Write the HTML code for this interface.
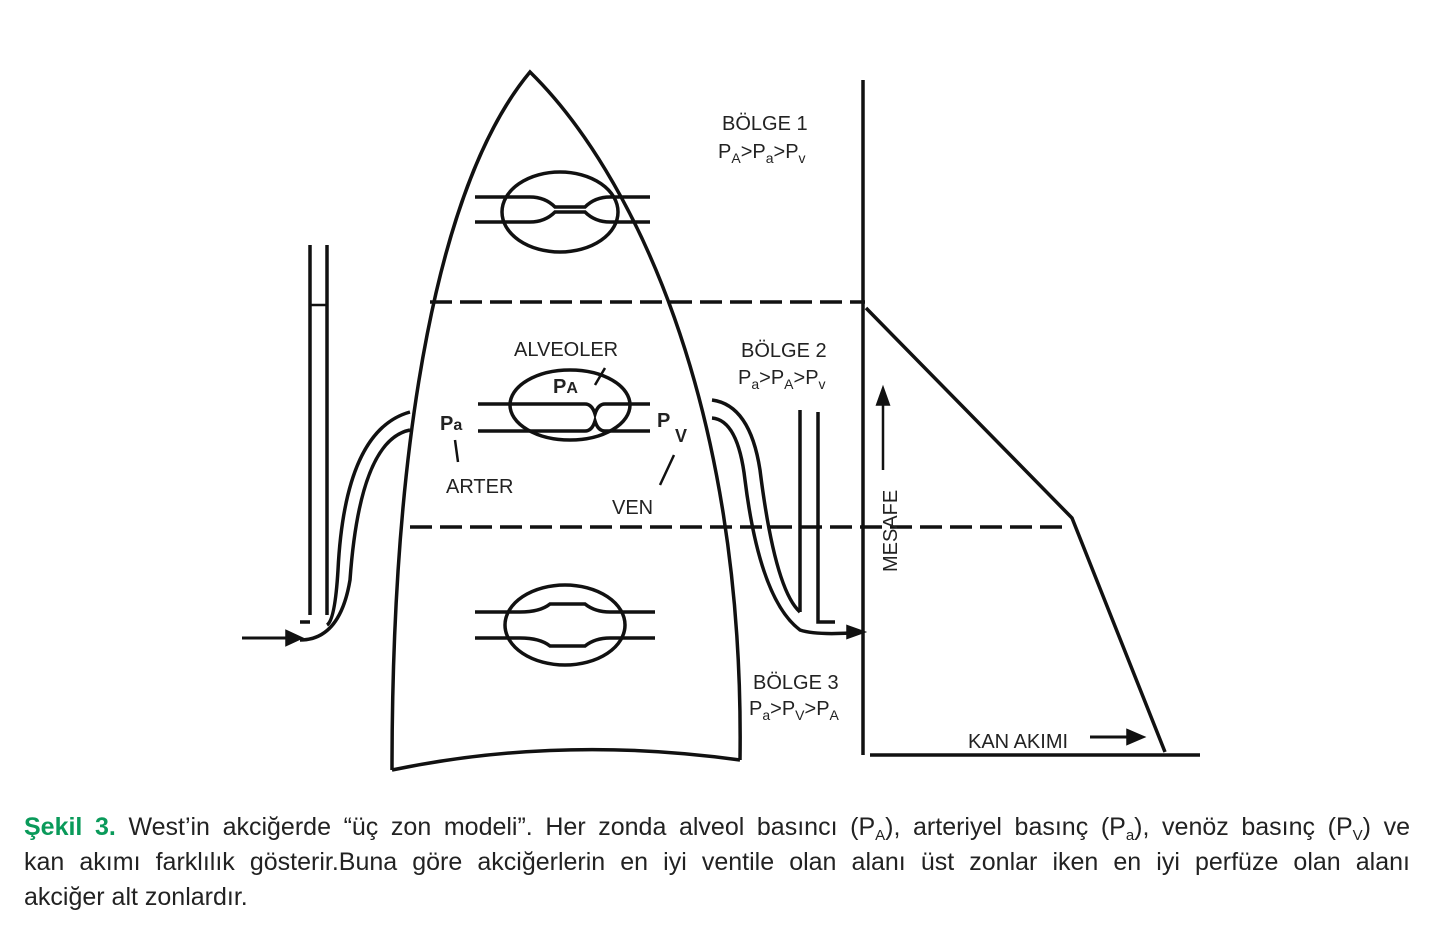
<!DOCTYPE html>
<html><head><meta charset="utf-8"><style>
body{margin:0;width:1443px;height:941px;background:#fff;overflow:hidden;position:relative;font-family:"Liberation Sans",sans-serif}
svg{position:absolute;left:0;top:0}
.cap{position:absolute;left:24px;width:1386px;top:810px;font-size:25px;line-height:35px;color:#222}
.cap div{text-align:justify;text-align-last:justify;white-space:nowrap}
.cap div.l{text-align-last:left}
.cap b{color:#0a9a5a}
sub{font-size:15px;vertical-align:-5px;line-height:0}
</style></head><body>
<svg width="1443" height="800" viewBox="0 0 1443 800" fill="none" stroke="#111" stroke-width="3.5" font-family="Liberation Sans" >
<!-- lung -->
<path d="M392 770 C392 430 440 180 530 72 C630 170 745 400 740 760"/>
<path d="M392 770 Q560 735 740 760"/>
<!-- dashed -->
<path d="M430 302 H865" stroke-dasharray="22 8"/>
<path d="M410 527 H1070" stroke-dasharray="22 8"/>
<!-- graph -->
<path d="M863 80 V755 M870 755 H1200"/>
<path d="M866 308 L1072 518 L1165 752"/>
<path d="M883 470 V392" stroke-width="2.5"/><path d="M878 404 L883 390 L888 404Z" fill="#111"/>
<path d="M1090 737 H1132" stroke-width="3"/><path d="M1128 731 L1142 737 L1128 743Z" fill="#111"/>
<!-- top alveolus -->
<ellipse cx="560" cy="212" rx="58" ry="40"/>
<path d="M475 197 H530 Q545 197 555 207 H585 Q595 197 610 197 H650" />
<path d="M475 222 H530 Q545 222 555 212 H585 Q595 222 610 222 H650"/>
<!-- middle alveolus -->
<ellipse cx="570" cy="405" rx="60" ry="35"/>
<path d="M478 404 H585 Q592 404 595 414 Q598 404 605 404 H650"/>
<path d="M478 431 H585 Q592 431 595 421 Q598 431 605 431 H650"/>
<path d="M595 385 L605 368" stroke-width="2.5"/>
<path d="M455 440 L458 462 M660 485 L674 455" stroke-width="2.5"/>
<!-- bottom alveolus -->
<ellipse cx="565" cy="625" rx="60" ry="40"/>
<path d="M475 612 H520 Q540 612 550 604 H585 Q595 612 610 612 H655"/>
<path d="M475 638 H520 Q540 638 550 646 H585 Q595 638 610 638 H655"/>
<!-- left tube -->
<path d="M310 245 V615 M327 245 V615"/>
<path d="M310 305 H327" stroke-width="2.5"/>
<path d="M300 622 H310 M327 625 Q335 620 338 570 Q345 430 410 412"/>
<path d="M300 640 Q340 640 350 580 Q360 440 410 430"/>
<path d="M242 638 H290" stroke-width="3"/><path d="M287 632 L300 638 L287 644Z" fill="#111"/>
<!-- right tube -->
<path d="M712 400 Q750 405 760 470 Q775 590 800 612"/>
<path d="M712 418 Q738 420 745 480 Q760 600 800 630 Q815 635 850 633"/>
<path d="M800 410 V612 M818 412 V622 H835"/>
<path d="M800 527 H818" stroke-width="2.5"/>
<path d="M848 627 L862 632 L848 637Z" fill="#111"/>
<g fill="#222" stroke="none" font-size="20">
<text x="722" y="130">BÖLGE 1</text>
<text x="718" y="158">P<tspan font-size="14" dy="5">A</tspan><tspan dy="-5">&gt;P</tspan><tspan font-size="14" dy="5">a</tspan><tspan dy="-5">&gt;P</tspan><tspan font-size="14" dy="5">v</tspan></text>
<text x="741" y="357">BÖLGE 2</text>
<text x="738" y="384">P<tspan font-size="14" dy="5">a</tspan><tspan dy="-5">&gt;P</tspan><tspan font-size="14" dy="5">A</tspan><tspan dy="-5">&gt;P</tspan><tspan font-size="14" dy="5">v</tspan></text>
<text x="753" y="689">BÖLGE 3</text>
<text x="749" y="715">P<tspan font-size="14" dy="5">a</tspan><tspan dy="-5">&gt;P</tspan><tspan font-size="14" dy="5">V</tspan><tspan dy="-5">&gt;P</tspan><tspan font-size="14" dy="5">A</tspan></text>
<text x="514" y="356">ALVEOLER</text>
<text x="553" y="393" font-weight="bold">P<tspan font-size="16">A</tspan></text>
<text x="440" y="430" font-weight="bold">P<tspan font-size="16">a</tspan></text>
<text x="657" y="427" font-weight="bold">P</text><text x="675" y="442" font-weight="bold" font-size="18">V</text>
<text x="446" y="493">ARTER</text>
<text x="612" y="514">VEN</text>
<text x="968" y="748">KAN AKIMI</text>
<text transform="translate(897,572) rotate(-90)">MESAFE</text>
</g>
</svg>
<div class="cap">
<div><b>Şekil 3.</b> West’in akciğerde “üç zon modeli”. Her zonda alveol basıncı (P<sub>A</sub>), arteriyel basınç (P<sub>a</sub>), venöz basınç (P<sub>V</sub>) ve</div>
<div>kan akımı farklılık gösterir.Buna göre akciğerlerin en iyi ventile olan alanı üst zonlar iken en iyi perfüze olan alanı</div>
<div class="l">akciğer alt zonlardır.</div>
</div>
</body></html>
